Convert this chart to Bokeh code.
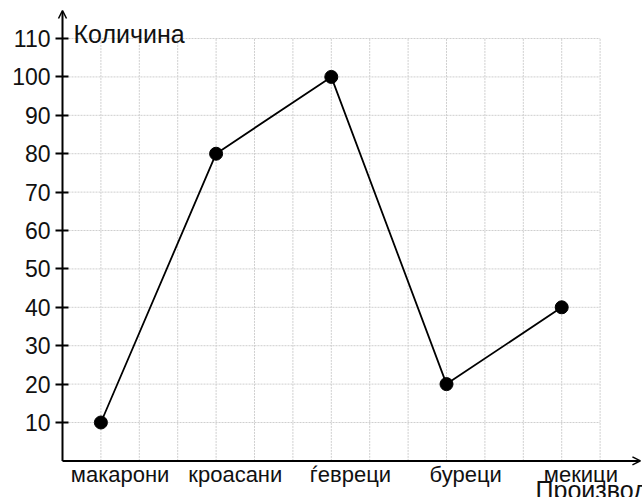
from bokeh.plotting import figure
from bokeh.models import (LinearAxis, FixedTicker, Arrow, OpenHead, Label,
                          ColumnDataSource, Range1d)
from bokeh.embed import file_html
from bokeh.resources import INLINE

categories = ["макарони", "кроасани", "ѓевреци", "буреци", "мекици"]
values = [10, 80, 100, 20, 40]
y_ticks = [10, 20, 30, 40, 50, 60, 70, 80, 90, 100, 110]
y_title = "Количина"
x_title = "Производ"

FONT = "Liberation Sans"
STEP = 3  # grid cells between categories
xpos = [1 + STEP * i for i in range(len(categories))]
x_grid = list(range(1, xpos[-1] + 2))
x_max = x_grid[-1]
y_max = y_ticks[-1]

p = figure(width=642, height=497, output_backend="svg", toolbar_location=None,
           x_range=Range1d(-1.6146, 15.104), y_range=Range1d(-9.53, 119.9),
           min_border_left=0, min_border_right=0, min_border_top=0, min_border_bottom=0,
           x_axis_type=None, y_axis_type=None, title=None)
p.outline_line_color = None
p.xgrid.visible = False
p.ygrid.visible = False

# grid
grid_col = "#cfcfcf"
p.segment(x0=x_grid, y0=[0] * len(x_grid), x1=x_grid, y1=[y_max] * len(x_grid),
          line_color=grid_col, line_width=1, line_dash="2 1")
p.segment(x0=[0] * len(y_ticks), y0=y_ticks, x1=[x_max] * len(y_ticks), y1=y_ticks,
          line_color=grid_col, line_width=1, line_dash="2 1")

# axes
yax = LinearAxis(ticker=FixedTicker(ticks=y_ticks), fixed_location=0)
yax.axis_line_color = None
yax.major_tick_in = 6
yax.major_tick_out = 7
yax.major_tick_line_width = 2
yax.minor_tick_line_color = None
yax.major_label_standoff = 5
yax.major_label_text_font = FONT
yax.major_label_text_font_size = "23px"
yax.major_label_text_color = "#111111"
p.add_layout(yax, "left")

xlab_pos = [x + 0.5 for x in xpos]
xax = LinearAxis(ticker=FixedTicker(ticks=xlab_pos), fixed_location=0,
                 major_label_overrides={xp: c for xp, c in zip(xlab_pos, categories)})
xax.axis_line_color = None
xax.major_tick_line_color = None
xax.minor_tick_line_color = None
xax.major_tick_out = 0
xax.major_tick_in = 0
xax.major_label_standoff = 1
xax.major_label_text_font = FONT
xax.major_label_text_font_size = "22px"
xax.major_label_text_color = "#111111"
p.add_layout(xax, "below")

p.add_layout(Arrow(x_start=0, y_start=0, x_end=0, y_end=117.3, line_width=2,
                   end=OpenHead(size=8, line_width=1.5)))
p.add_layout(Arrow(x_start=0, y_start=0, x_end=15.05, y_end=0, line_width=2,
                   end=OpenHead(size=8, line_width=1.5)))

src = ColumnDataSource(dict(x=xpos, y=values))
p.line("x", "y", source=src, line_color="black", line_width=1.8)
p.scatter("x", "y", source=src, size=13, color="black")

p.add_layout(Label(x=0.286, y=111.3, text=y_title,
                   text_font=FONT, text_font_size="25px", text_color="#111111",
                   text_baseline="alphabetic"))
p.add_layout(Label(x=12.32, y=-7.45, text=x_title,
                   text_font=FONT, text_font_size="25px", text_color="#111111",
                   text_baseline="alphabetic"))

open("out.html", "w").write(file_html(p, INLINE))
